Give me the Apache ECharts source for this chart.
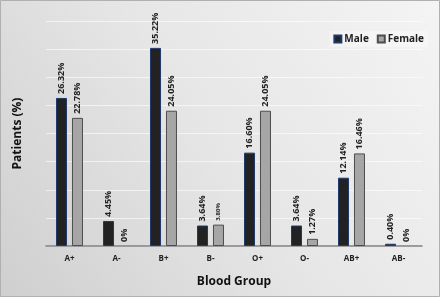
<!DOCTYPE html>
<html>
<head>
<meta charset="utf-8">
<script src="https://cdn.jsdelivr.net/npm/echarts@6/dist/echarts.min.js"></script>
<style>
  html, body { margin: 0; padding: 0; }
  #chart { width: 440px; height: 297px; }
</style>
</head>
<body>
<div id="chart"></div>
<script>
const groups = ['A+', 'A-', 'B+', 'B-', 'O+', 'O-', 'AB+', 'AB-'];
const male = [26.32, 4.45, 35.22, 3.64, 16.60, 3.64, 12.14, 0.40];
const female = [22.78, 0, 24.05, 3.80, 24.05, 1.27, 16.46, 0];

const chart = echarts.init(document.getElementById('chart'));

function labelCfg (size) {
  return {
    show: true,
    position: 'top',
    rotate: 90,
    align: 'left',
    verticalAlign: 'middle',
    distance: 4,
    color: '#222',
    fontWeight: 'bold',
    fontSize: size,
    fontFamily: 'Open Sans',
    formatter: p => (p.value === 0 ? '0' : p.value.toFixed(2)) + '%'
  };
}

// zero-height bars would still draw their border as a line
function barData (arr, smallIdx) {
  return arr.map((v, i) => ({
    value: v,
    itemStyle: v === 0 ? { borderWidth: 0 } : undefined,
    label: i === smallIdx ? { fontSize: 6 } : undefined
  }));
}

chart.setOption({
  backgroundColor: {
    type: 'linear', x: 1, y: 0, x2: 0, y2: 1,
    colorStops: [
      { offset: 0, color: '#f4f4f4' },
      { offset: 0.5, color: '#e6e6e6' },
      { offset: 1, color: '#cfcfcf' }
    ]
  },
  textStyle: { fontFamily: 'Open Sans' },
  graphic: [{
    type: 'rect',
    shape: { x: 0.5, y: 0.5, width: 439, height: 296 },
    style: { fill: 'none', stroke: '#b0b0b0', lineWidth: 1 },
    silent: true
  }],
  legend: {
    right: 12,
    top: 31,
    icon: 'rect',
    itemWidth: 7,
    itemHeight: 7,
    itemGap: 8,
    backgroundColor: 'rgba(255,255,255,0.35)',
    padding: [3, 4],
    textStyle: { fontSize: 10, fontWeight: 'bold', color: '#222', padding: [0, 0, 0, -2] },
    data: ['Male', 'Female']
  },
  grid: { left: 46, right: 18, top: 21, bottom: 51 },
  xAxis: {
    type: 'category',
    data: groups,
    name: 'Blood Group',
    nameLocation: 'middle',
    nameGap: 30,
    nameTextStyle: { fontSize: 12, fontWeight: 'bold', color: '#111' },
    axisLine: { lineStyle: { color: '#808080', width: 1.5 } },
    axisTick: { show: false },
    axisLabel: { fontSize: 8, fontWeight: 'bold', color: '#222', margin: 9 }
  },
  yAxis: {
    type: 'value',
    min: 0,
    max: 40,
    interval: 5,
    name: 'Patients (%)',
    nameLocation: 'middle',
    nameGap: 22,
    nameRotate: 90,
    nameTextStyle: { fontSize: 12, fontWeight: 'bold', color: '#111' },
    axisLine: { show: false },
    axisTick: { show: false },
    axisLabel: { show: false },
    splitLine: { lineStyle: { color: 'rgba(255,255,255,0.6)', width: 1 } }
  },
  series: [{
    name: 'Male',
    type: 'bar',
    barWidth: 11,
    barGap: '45%',
    data: barData(male, -1),
    itemStyle: { color: '#222222', borderColor: '#1f3a6b', borderWidth: 1 },
    label: labelCfg(9)
  }, {
    name: 'Female',
    type: 'bar',
    barWidth: 11,
    data: barData(female, 3),
    itemStyle: { color: '#a6a6a6', borderColor: '#4d4d4d', borderWidth: 1 },
    label: labelCfg(9)
  }]
});
</script>
</body>
</html>
